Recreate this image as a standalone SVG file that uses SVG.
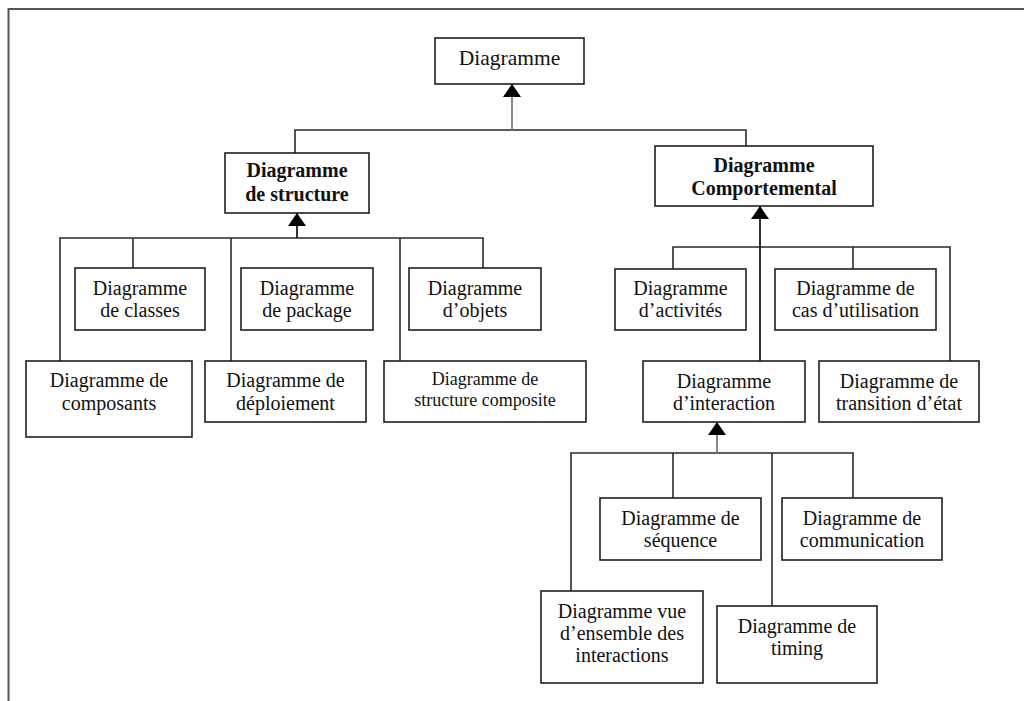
<svg xmlns="http://www.w3.org/2000/svg" width="1024" height="701" viewBox="0 0 1024 701">
  <style>
    .box { fill: #ffffff; stroke: #1e1e1e; stroke-width: 1.6; }
    .lbl { font-family: 'Liberation Serif', 'Tinos', 'DejaVu Serif', 'Noto Serif', serif; font-size: 20px; fill: #111111; text-anchor: middle; }
    .bold { font-weight: bold; }
    .small { font-size: 18px; }
    .top { font-size: 21.5px; }
    .wire { fill: none; stroke: #2a2a2a; stroke-width: 1.6; }
    .stem { fill: none; stroke: #1a1a1a; stroke-width: 1.8; marker-end: url(#tri); }
    .stem.grey { stroke: #7a7a7a; }
    .frame { fill: none; stroke: #555555; stroke-width: 2; }
  </style>
  <defs>
    <marker id="tri" viewBox="0 0 13 18" refX="13" refY="9" markerWidth="13" markerHeight="18" markerUnits="userSpaceOnUse" orient="auto">
      <path d="M0,0 L13,9 L0,18 Z" fill="#000000"/>
    </marker>
  </defs>

  <rect width="1024" height="701" fill="#ffffff"/>
  <!-- page frame -->
  <path class="frame" d="M8.5,701 V9 H1024"/>

  <!-- connectors -->
  <g id="connectors">
    <!-- root generalisation -->
    <path class="wire" d="M295,153 V130 H746 V146"/>
    <path class="stem grey" d="M512,130 V84"/>
    <!-- structure diagrams -->
    <path class="wire" d="M60,361 V238 H483 V268"/>
    <path class="wire" d="M133,238 V268"/>
    <path class="wire" d="M231,238 V361"/>
    <path class="wire" d="M400,238 V361"/>
    <path class="stem" d="M297,238 V213"/>
    <!-- behaviour diagrams -->
    <path class="wire" d="M673,269 V247 H950 V361"/>
    <path class="wire" d="M853,247 V269"/>
    <path class="stem" d="M760,361 V206"/>
    <!-- interaction diagrams -->
    <path class="wire" d="M571,591 V453 H853 V498"/>
    <path class="wire" d="M673,453 V498"/>
    <path class="wire" d="M772,453 V606"/>
    <path class="stem grey" d="M717,453 V422"/>
  </g>

  <g font-family="Liberation Serif, DejaVu Serif, serif">
  <g id="diagramme">
    <rect class="box" x="435" y="38" width="149" height="46"/>
    <text class="lbl top" x="509.5" y="65">Diagramme</text>
  </g>

  <g id="structure">
    <rect class="box" x="225" y="153" width="144" height="60"/>
    <text class="lbl bold" x="297" y="177">Diagramme</text>
    <text class="lbl bold" x="297" y="201">de structure</text>
  </g>

  <g id="comportemental">
    <rect class="box" x="655" y="146" width="218" height="60"/>
    <text class="lbl bold" x="764" y="172">Diagramme</text>
    <text class="lbl bold" x="764" y="195">Comportemental</text>
  </g>

  <g id="classes">
    <rect class="box" x="75" y="268" width="130" height="62"/>
    <text class="lbl" x="140" y="295">Diagramme</text>
    <text class="lbl" x="140" y="317">de classes</text>
  </g>

  <g id="package">
    <rect class="box" x="241" y="268" width="132" height="62"/>
    <text class="lbl" x="307" y="295">Diagramme</text>
    <text class="lbl" x="307" y="317">de package</text>
  </g>

  <g id="objets">
    <rect class="box" x="409" y="268" width="132" height="62"/>
    <text class="lbl" x="475" y="295">Diagramme</text>
    <text class="lbl" x="475" y="317">d’objets</text>
  </g>

  <g id="composants">
    <rect class="box" x="26" y="361" width="166" height="76"/>
    <text class="lbl" x="109" y="387">Diagramme de</text>
    <text class="lbl" x="109" y="410">composants</text>
  </g>

  <g id="deploiement">
    <rect class="box" x="205" y="361" width="161" height="61"/>
    <text class="lbl" x="285.5" y="387">Diagramme de</text>
    <text class="lbl" x="285.5" y="410">déploiement</text>
  </g>

  <g id="composite">
    <rect class="box" x="384" y="361" width="202" height="61"/>
    <text class="lbl small" x="485" y="385">Diagramme de</text>
    <text class="lbl small" x="485" y="406">structure composite</text>
  </g>

  <g id="activites">
    <rect class="box" x="615" y="269" width="131" height="61"/>
    <text class="lbl" x="680.5" y="295">Diagramme</text>
    <text class="lbl" x="680.5" y="317">d’activités</text>
  </g>

  <g id="cas-utilisation">
    <rect class="box" x="775" y="269" width="161" height="61"/>
    <text class="lbl" x="855.5" y="295">Diagramme de</text>
    <text class="lbl" x="855.5" y="317">cas d’utilisation</text>
  </g>

  <g id="interaction">
    <rect class="box" x="643" y="361" width="162" height="61"/>
    <text class="lbl" x="724" y="388">Diagramme</text>
    <text class="lbl" x="724" y="410">d’interaction</text>
  </g>

  <g id="transition-etat">
    <rect class="box" x="819" y="361" width="160" height="61"/>
    <text class="lbl" x="899" y="388">Diagramme de</text>
    <text class="lbl" x="899" y="410">transition d’état</text>
  </g>

  <g id="sequence">
    <rect class="box" x="600" y="498" width="161" height="62"/>
    <text class="lbl" x="680.5" y="525">Diagramme de</text>
    <text class="lbl" x="680.5" y="547">séquence</text>
  </g>

  <g id="communication">
    <rect class="box" x="782" y="498" width="160" height="62"/>
    <text class="lbl" x="862" y="525">Diagramme de</text>
    <text class="lbl" x="862" y="547">communication</text>
  </g>

  <g id="vue-ensemble">
    <rect class="box" x="541" y="591" width="162" height="92"/>
    <text class="lbl" x="622" y="618">Diagramme vue</text>
    <text class="lbl" x="622" y="640">d’ensemble des</text>
    <text class="lbl" x="622" y="662">interactions</text>
  </g>

  <g id="timing">
    <rect class="box" x="717" y="606" width="160" height="77"/>
    <text class="lbl" x="797" y="633">Diagramme de</text>
    <text class="lbl" x="797" y="655">timing</text>
  </g>
  </g>
</svg>
